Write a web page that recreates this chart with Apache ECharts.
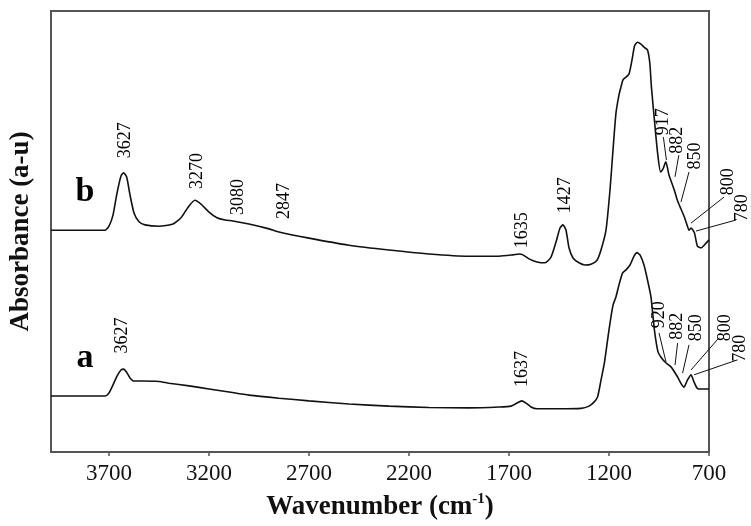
<!DOCTYPE html>
<html>
<head>
<meta charset="utf-8">
<script src="https://cdn.jsdelivr.net/npm/echarts@6/dist/echarts.min.js"></script>
<style>
  html, body { margin: 0; padding: 0; background: #fff; }
  #chart { width: 751px; height: 526px; }
</style>
</head>
<body>
<div id="chart"></div>
<script>
// x axis tick labels (wavenumber, cm-1), axis runs high -> low
const xTicks = [3700, 3200, 2700, 2200, 1700, 1200, 700];

// spectrum b
const waveB = [3990, 3880, 3720, 3700, 3680, 3660, 3640, 3627, 3612, 3595, 3575, 3550, 3520, 3450, 3380, 3340,
  3300, 3270, 3240, 3200, 3160, 3120, 3080, 3000, 2900, 2850, 2700, 2500, 2300, 2100, 1900, 1750, 1680, 1650,
  1630, 1600, 1560, 1520, 1490, 1465, 1445, 1430, 1415, 1400, 1380, 1350, 1320, 1290, 1260, 1240, 1215, 1195,
  1180, 1165, 1150, 1140, 1130, 1115, 1100, 1085, 1072, 1058, 1040, 1025, 1008, 996, 988, 973, 957, 942, 930,
  916, 900, 875, 857, 840, 823, 810, 800, 790, 773, 758, 740, 718, 700];
const absB = [0.503, 0.503, 0.503, 0.512, 0.537, 0.587, 0.626, 0.633, 0.624, 0.583, 0.542, 0.522, 0.515, 0.512,
  0.517, 0.531, 0.558, 0.571, 0.562, 0.544, 0.531, 0.526, 0.524, 0.517, 0.506, 0.499, 0.485, 0.469, 0.458, 0.449,
  0.444, 0.444, 0.447, 0.449, 0.447, 0.438, 0.431, 0.429, 0.442, 0.476, 0.508, 0.515, 0.503, 0.463, 0.440, 0.429,
  0.424, 0.426, 0.435, 0.458, 0.503, 0.594, 0.685, 0.769, 0.810, 0.828, 0.844, 0.850, 0.857, 0.889, 0.921, 0.929,
  0.925, 0.918, 0.912, 0.882, 0.828, 0.753, 0.678, 0.635, 0.642, 0.658, 0.628, 0.596, 0.569, 0.551, 0.533, 0.515,
  0.503, 0.508, 0.497, 0.467, 0.463, 0.472, 0.481];

// spectrum a
const waveA = [3990, 3880, 3720, 3700, 3680, 3660, 3640, 3627, 3612, 3595, 3575, 3540, 3450, 3400, 3300, 3200,
  3100, 3000, 2850, 2700, 2500, 2300, 2100, 1900, 1750, 1690, 1660, 1637, 1615, 1590, 1560, 1450, 1340, 1300,
  1275, 1257, 1240, 1223, 1200, 1180, 1165, 1150, 1132, 1115, 1095, 1075, 1060, 1045, 1025, 1005, 990, 973, 955,
  940, 920, 890, 857, 838, 825, 808, 790, 775, 760, 750, 700];
const absA = [0.127, 0.127, 0.127, 0.134, 0.152, 0.172, 0.186, 0.188, 0.181, 0.168, 0.161, 0.161, 0.160, 0.156,
  0.150, 0.143, 0.136, 0.129, 0.122, 0.116, 0.109, 0.104, 0.101, 0.100, 0.102, 0.104, 0.111, 0.116, 0.111, 0.102,
  0.098, 0.098, 0.099, 0.104, 0.113, 0.125, 0.163, 0.202, 0.277, 0.333, 0.352, 0.379, 0.406, 0.413, 0.424, 0.444,
  0.452, 0.447, 0.424, 0.385, 0.351, 0.277, 0.227, 0.215, 0.204, 0.193, 0.170, 0.154, 0.147, 0.163, 0.175, 0.159,
  0.145, 0.143, 0.143];

// peak annotations: [wavenumber, absorbance, text]
const peakLabelsB = [[3620, 0.707, '3627'], [3260, 0.637, '3270'], [3055, 0.578, '3080'], [2825, 0.569, '2847'],
  [1632, 0.503, '1635'], [1420, 0.582, '1427'], [930, 0.749, '917'], [857, 0.707, '882'], [770, 0.671, '850'],
  [606, 0.613, '800'], [532, 0.554, '780']];
const peakLabelsA = [[3632, 0.264, '3627'], [1635, 0.188, '1637'], [950, 0.311, '920'], [857, 0.285, '882'],
  [762, 0.282, '850'], [620, 0.282, '800'], [545, 0.235, '780']];

// leader lines from label to band: [wn1, abs1, wn2, abs2]
const leadersB = [[928, 0.714, 913, 0.662], [851, 0.673, 870, 0.624], [800, 0.635, 840, 0.567],
  [625, 0.578, 790, 0.519], [565, 0.526, 765, 0.501]];
const leadersA = [[950, 0.270, 915, 0.204], [857, 0.247, 870, 0.197], [800, 0.243, 832, 0.179],
  [650, 0.259, 790, 0.186], [557, 0.209, 775, 0.175]];

// trace letters
const traceNames = [['b', 3820, 0.590], ['a', 3820, 0.213]];

const FONT = "'Liberation Serif', 'DejaVu Serif', serif";
const INK = '#111';

const chart = echarts.init(document.getElementById('chart'));

const spectrum = (wave, abs) => ({
  type: 'line',
  data: wave.map((w, i) => [w, abs[i]]),
  showSymbol: false,
  smooth: 0.2,
  lineStyle: { color: INK, width: 1.6 },
  silent: true,
  z: 3,
});

chart.setOption({
  animation: false,
  grid: {
    left: 51, right: 42, top: 11, bottom: 74,
    show: true, borderColor: '#555', borderWidth: 2,
  },
  xAxis: {
    type: 'value',
    inverse: true,
    min: 700,
    max: 3990,
    axisLine: { show: false },
    axisTick: { show: true, length: 4, customValues: xTicks, lineStyle: { color: '#555', width: 1.5 } },
    axisLabel: {
      customValues: xTicks, formatter: (v) => String(v),
      fontSize: 23, fontFamily: FONT, color: '#111', margin: 10,
    },
    splitLine: { show: false },
    name: '{t|Wavenumber (cm}{s|-1}{t|)}',
    nameLocation: 'middle',
    nameGap: 40,
    nameTextStyle: {
      rich: {
        t: { fontSize: 27, fontWeight: 'bold', fontFamily: FONT, color: '#111', lineHeight: 30 },
        s: { fontSize: 15, fontWeight: 'bold', fontFamily: FONT, color: '#111', verticalAlign: 'top', lineHeight: 30, padding: [0, 0, 10, 0] },
      },
    },
  },
  yAxis: {
    type: 'value',
    min: 0,
    max: 1,
    axisLine: { show: false },
    axisTick: { show: false },
    axisLabel: { show: false },
    splitLine: { show: false },
    name: 'Absorbance (a-u)',
    nameLocation: 'middle',
    nameRotate: 90,
    nameGap: 16,
    nameTextStyle: { fontSize: 27, fontWeight: 'bold', fontFamily: FONT, color: '#111' },
  },
  series: [
    spectrum(waveB, absB),
    spectrum(waveA, absA),
    {
      // leader lines, allowed to run past the right border
      type: 'custom',
      clip: false,
      silent: true,
      data: leadersB.concat(leadersA),
      encode: { x: [0, 2], y: [1, 3] },
      renderItem: (params, api) => {
        const p1 = api.coord([api.value(0), api.value(1)]);
        const p2 = api.coord([api.value(2), api.value(3)]);
        return {
          type: 'line',
          shape: { x1: p1[0], y1: p1[1], x2: p2[0], y2: p2[1] },
          style: { stroke: INK, lineWidth: 1 },
        };
      },
    },
    {
      type: 'scatter',
      symbolSize: 0,
      clip: false,
      silent: true,
      itemStyle: { opacity: 1 },
      data: peakLabelsB.concat(peakLabelsA).map((p) => ({ value: [p[0], p[1]], name: p[2] })),
      label: {
        show: true, position: 'inside', rotate: 90, formatter: '{b}',
        fontSize: 18, fontFamily: FONT, color: '#000', opacity: 1,
      },
    },
    {
      type: 'scatter',
      symbolSize: 0,
      clip: false,
      silent: true,
      itemStyle: { opacity: 1 },
      data: traceNames.map((t) => ({ value: [t[1], t[2]], name: t[0] })),
      label: {
        show: true, position: 'inside', formatter: '{b}',
        fontSize: 34, fontWeight: 'bold', fontFamily: FONT, color: '#000', opacity: 1,
      },
    },
  ],
});

window.addEventListener('resize', () => {
  chart.resize();
});
</script>
</body>
</html>
